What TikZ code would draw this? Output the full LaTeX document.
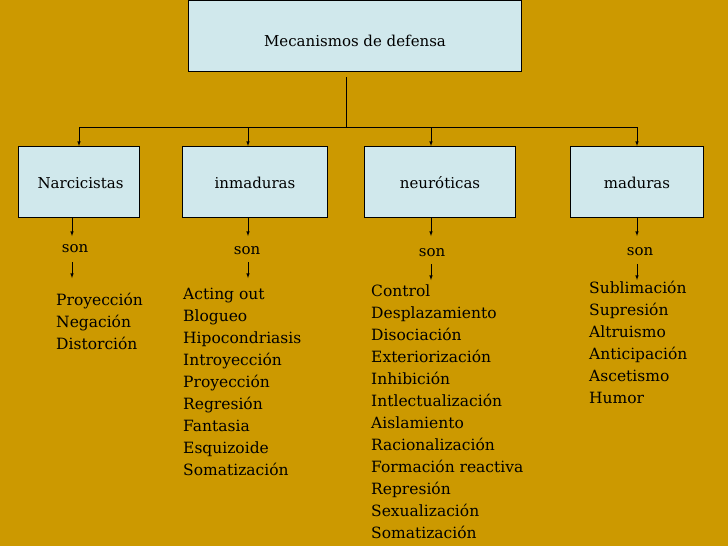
\documentclass[tikz,border=0pt]{standalone}
\usepackage{fontspec}
\setmainfont{DejaVu Serif}
\definecolor{bg}{RGB}{204,153,0}
\definecolor{bx}{RGB}{208,232,236}
\begin{document}
\begin{tikzpicture}[x=1pt,y=-1pt,
 box/.style={draw=black,fill=bx,minimum height=71pt,anchor=north west,inner sep=0pt},
 lst/.style={anchor=north west,align=left,font=\fontsize{15.5}{22}\selectfont,inner sep=0pt},
 lbl/.style={font=\fontsize{15}{18}\selectfont},
 arr/.style={-latex,line width=0.6pt}]
\fill[bg] (0,0) rectangle (728,546);
\useasboundingbox (0,0) rectangle (728,546);
\node[box,minimum width=333pt] (top) at (188,0) {};
\node[lbl] at (355,41) {Mecanismos de defensa};
\node[box,minimum width=121pt] (b1) at (18,146) {};
\node[lbl,anchor=west] at (34,183) {Narcicistas};
\node[box,minimum width=145pt] (b2) at (182,146) {};
\node[lbl] at (255,183) {inmaduras};
\node[box,minimum width=151pt] (b3) at (364,146) {};
\node[lbl] at (440,183) {neuróticas};
\node[box,minimum width=133pt] (b4) at (570,146) {};
\node[lbl] at (637,183) {maduras};
\coordinate (j) at (346,127);
\draw[line width=0.6pt] (346,77) -- (j);
\draw[line width=0.6pt] (79,127) -- (637,127);
\foreach \x in {79,248,431,637} \draw[arr] (\x,127) -- (\x,146);
\node[lbl] (s1) at (75,249) {son};
\node[lbl] (s2) at (247,251) {son};
\node[lbl] (s3) at (432,253) {son};
\node[lbl] (s4) at (640,252) {son};
\foreach \x/\a/\b in {72/236/262, 248/236/262, 431/236/264, 637/236/264} {
 \draw[arr] (\x,217) -- (\x,\a);
 \draw[arr] (\x,\b) -- (\x,\b+16);
}
\node[lst] at (56,293) {Proyección\\Negación\\Distorción};
\node[lst] at (183,288) {Acting out\\Blogueo\\Hipocondriasis\\Introyección\\Proyección\\Regresión\\Fantasia\\Esquizoide\\Somatización};
\node[lst] at (371,285) {Control\\Desplazamiento\\Disociación\\Exteriorización\\Inhibición\\Intlectualización\\Aislamiento\\Racionalización\\Formación reactiva\\Represión\\Sexualización\\Somatización};
\node[lst] at (589,281) {Sublimación\\Supresión\\Altruismo\\Anticipación\\Ascetismo\\Humor};
\end{tikzpicture}
\end{document}
